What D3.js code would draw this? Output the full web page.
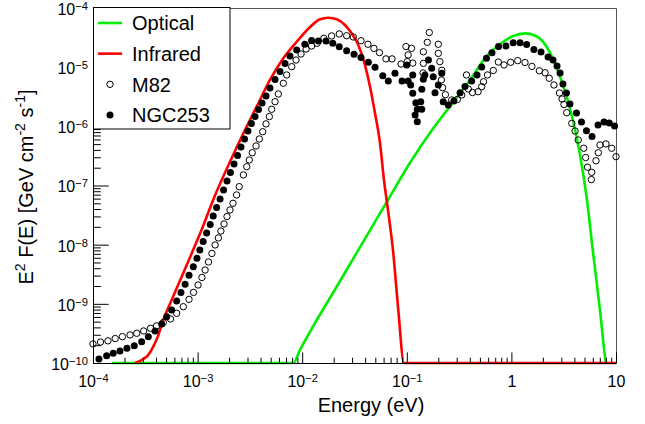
<!DOCTYPE html>
<html>
<head>
<meta charset="utf-8">
<script src="https://cdn.jsdelivr.net/npm/d3@7"></script>
<style>
body { margin: 0; background: #fff; }
svg { display: block; font-family: "Liberation Sans", Arial, Helvetica, sans-serif; }
</style>
</head>
<body>
<div id="chart"></div>
<script>
// axis ticks and legend
const xTicks = [1e-4, 1e-3, 1e-2, 1e-1, 1, 10];
const yTicks = [1e-10, 1e-9, 1e-8, 1e-7, 1e-6, 1e-5, 1e-4];
const legendLabels = ["Optical", "Infrared", "M82", "NGC253"];

// NGC253 (filled markers)
const ngcEnergy = [1.14e-4, 1.35e-4, 1.56e-4, 1.81e-4, 2.11e-4, 2.48e-4, 2.92e-4, 3.38e-4, 3.92e-4, 4.54e-4,
  5.07e-4, 5.65e-4, 6.31e-4, 6.93e-4, 7.59e-4, 8.28e-4, 9.10e-4, 9.86e-4, 1.05e-3, 1.13e-3,
  1.22e-3, 1.32e-3, 1.41e-3, 1.52e-3, 1.64e-3, 1.77e-3, 1.91e-3, 2.06e-3, 2.23e-3, 2.41e-3,
  2.60e-3, 2.81e-3, 3.03e-3, 3.27e-3, 3.54e-3, 3.82e-3, 4.13e-3, 4.51e-3, 4.92e-3, 5.50e-3,
  6.14e-3, 6.85e-3, 7.64e-3, 8.86e-3, 1.06e-2, 1.23e-2, 1.43e-2, 1.69e-2, 1.96e-2, 2.26e-2,
  2.66e-2, 3.13e-2, 3.65e-2, 4.29e-2, 4.97e-2, 5.89e-2, 6.65e-2, 7.71e-2, 9.00e-2, 1.03e-1,
  9.97e-2, 1.14e-1, 1.09e-1, 1.14e-1, 1.22e-1, 1.26e-1, 1.20e-1, 1.26e-1, 1.39e-1, 1.36e-1,
  1.39e-1, 1.44e-1, 1.49e-1, 1.61e-1, 1.73e-1, 1.79e-1, 1.86e-1, 2.00e-1, 2.16e-1, 2.23e-1,
  2.49e-1, 2.82e-1, 3.23e-1, 3.60e-1, 4.17e-1, 4.69e-1, 5.20e-1, 5.78e-1, 6.52e-1, 7.53e-1,
  8.87e-1, 1.04, 1.21, 1.40, 1.64, 1.92, 2.24, 2.50, 2.73, 2.92,
  3.11, 3.36, 3.63, 4.19, 4.68, 5.22, 5.90, 6.73, 7.68, 8.62, 9.69];
const ngcFlux = [1.17e-10, 1.33e-10, 1.46e-10, 1.60e-10, 1.77e-10, 1.96e-10, 2.29e-10, 2.79e-10, 3.48e-10, 4.57e-10,
  6.07e-10, 7.87e-10, 1.12e-9, 1.55e-9, 2.14e-9, 3.03e-9, 4.25e-9, 5.89e-9, 8.13e-9, 1.13e-8,
  1.57e-8, 2.19e-8, 3.05e-8, 4.25e-8, 5.92e-8, 8.39e-8, 1.19e-7, 1.66e-7, 2.31e-7, 3.21e-7,
  4.48e-7, 6.11e-7, 8.34e-7, 1.12e-6, 1.47e-6, 1.93e-6, 2.48e-6, 3.26e-6, 4.45e-6, 6.19e-6,
  8.45e-6, 1.15e-5, 1.55e-5, 1.95e-5, 2.44e-5, 2.82e-5, 2.77e-5, 2.77e-5, 2.53e-5, 2.22e-5,
  1.90e-5, 1.65e-5, 1.45e-5, 1.21e-5, 9.95e-6, 7.18e-6, 5.84e-6, 7.87e-6, 5.84e-6, 5.84e-6,
  1.09e-5, 7.38e-6, 5.00e-6, 3.61e-6, 2.51e-6, 1.94e-6, 1.56e-6, 1.20e-6, 1.94e-6, 2.61e-6,
  4.23e-6, 6.24e-6, 7.38e-6, 1.32e-5, 9.57e-6, 6.90e-6, 3.70e-6, 5.00e-6, 7.87e-6, 2.61e-6,
  2.30e-6, 2.68e-6, 3.70e-6, 4.71e-6, 5.84e-6, 7.38e-6, 1.01e-5, 1.41e-5, 1.76e-5, 2.23e-5,
  2.28e-5, 2.59e-5, 2.59e-5, 2.42e-5, 1.99e-5, 1.80e-5, 1.49e-5, 1.32e-5, 1.05e-5, 7.98e-6,
  5.20e-6, 3.66e-6, 2.39e-6, 1.68e-6, 1.18e-6, 8.43e-7, 6.73e-7, 1.05e-6, 1.18e-6, 1.14e-6, 1.01e-6];

// M82 (open markers)
const m82Energy = [1.00e-4, 1.18e-4, 1.39e-4, 1.63e-4, 1.91e-4, 2.26e-4, 2.62e-4, 3.05e-4, 3.55e-4, 4.05e-4,
  4.70e-4, 5.51e-4, 6.31e-4, 7.30e-4, 8.28e-4, 9.14e-4, 1.01e-3, 1.10e-3, 1.18e-3, 1.27e-3,
  1.37e-3, 1.47e-3, 1.58e-3, 1.67e-3, 1.79e-3, 1.91e-3, 2.04e-3, 2.18e-3, 2.36e-3, 2.50e-3,
  2.74e-3, 2.95e-3, 3.12e-3, 3.33e-3, 3.62e-3, 3.89e-3, 4.19e-3, 4.51e-3, 4.85e-3, 5.11e-3,
  5.50e-3, 5.91e-3, 6.60e-3, 7.11e-3, 7.94e-3, 8.73e-3, 9.75e-3, 1.09e-2, 1.23e-2, 1.39e-2,
  1.61e-2, 1.91e-2, 2.26e-2, 2.66e-2, 3.08e-2, 3.65e-2, 4.25e-2, 4.85e-2, 5.48e-2, 6.32e-2,
  7.22e-2, 8.81e-2, 9.82e-2, 1.03e-1, 1.01e-1, 1.11e-1, 1.14e-1, 1.44e-1, 1.44e-1, 1.43e-1,
  1.57e-1, 1.64e-1, 2.00e-1, 2.00e-1, 2.07e-1, 2.16e-1, 2.14e-1, 2.20e-1, 2.34e-1, 2.69e-1,
  3.04e-1, 3.35e-1, 3.72e-1, 3.87e-1, 4.25e-1, 4.80e-1, 5.20e-1, 5.41e-1, 5.91e-1, 6.71e-1,
  7.50e-1, 8.50e-1, 9.84e-1, 1.15, 1.35, 1.57, 1.85, 2.10, 2.30, 2.55,
  2.88, 3.05, 3.18, 3.38, 3.78, 4.06, 4.36, 4.92, 5.13, 5.34,
  5.86, 5.81, 6.44, 6.78, 7.03, 8.02, 9.10, 10.0];
const m82Flux = [2.10e-10, 2.26e-10, 2.37e-10, 2.59e-10, 2.79e-10, 2.98e-10, 3.18e-10, 3.48e-10, 3.86e-10, 4.23e-10,
  4.84e-10, 5.55e-10, 6.92e-10, 8.95e-10, 1.19e-9, 1.56e-9, 2.08e-9, 2.79e-9, 3.73e-9, 5.10e-9,
  7.10e-9, 9.89e-9, 1.30e-8, 1.70e-8, 2.24e-8, 2.99e-8, 3.86e-8, 5.00e-8, 6.92e-8, 9.55e-8,
  1.51e-7, 2.08e-7, 2.70e-7, 3.58e-7, 4.66e-7, 6.11e-7, 8.11e-7, 1.10e-6, 1.46e-6, 1.94e-6,
  2.61e-6, 3.52e-6, 5.34e-6, 7.38e-6, 1.02e-5, 1.32e-5, 1.67e-5, 2.03e-5, 2.28e-5, 2.53e-5,
  3.08e-5, 3.37e-5, 3.64e-5, 3.40e-5, 3.24e-5, 2.80e-5, 2.44e-5, 2.08e-5, 1.76e-5, 1.38e-5,
  1.38e-5, 1.13e-5, 2.23e-5, 1.61e-5, 1.24e-5, 2.08e-5, 1.17e-5, 1.82e-5, 1.16e-5, 7.98e-6,
  2.63e-5, 3.85e-5, 2.44e-5, 1.71e-5, 1.24e-5, 8.85e-6, 6.07e-6, 4.50e-6, 3.43e-6, 2.79e-6,
  2.84e-6, 3.39e-6, 7.38e-6, 4.28e-6, 3.73e-6, 3.85e-6, 4.68e-6, 5.68e-6, 7.38e-6, 8.79e-6,
  1.22e-5, 1.09e-5, 1.21e-5, 1.29e-5, 1.20e-5, 1.03e-5, 8.69e-6, 8.04e-6, 6.49e-6, 5.00e-6,
  3.66e-6, 2.90e-6, 2.34e-6, 1.70e-6, 1.12e-6, 8.34e-7, 5.88e-7, 4.26e-7, 2.97e-7, 2.04e-7,
  1.67e-7, 1.26e-7, 2.62e-7, 3.58e-7, 4.84e-7, 5.04e-7, 4.26e-7, 3.07e-7];

// model curves
const opticalEnergy = [1.51e-4, 8.22e-3, 9.53e-3, 2.30e-2, 6.43e-2, 1.07e-1, 1.79e-1, 2.79e-1, 4.02e-1, 5.81e-1,
  8.37e-1, 1.04, 1.35, 1.75, 2.18, 2.52, 2.92, 3.38, 3.91, 4.53, 5.25, 6.07, 7.03, 7.85, 8.02];
const opticalFlux = [1e-10, 1e-10, 1.66e-10, 2.43e-9, 5.26e-8, 2.40e-7, 9.27e-7, 2.58e-6, 6.07e-6, 1.54e-5,
  2.69e-5, 3.37e-5, 3.73e-5, 3.30e-5, 2.19e-5, 1.32e-5, 6.82e-6, 3.17e-6, 1.18e-6, 3.28e-7, 6.15e-8, 6.70e-9, 7.87e-10, 1.28e-10, 1e-10];

const infraredEnergy = [2.52e-4, 2.92e-4, 3.38e-4, 3.77e-4, 4.16e-4, 4.70e-4, 5.65e-4, 7.05e-4, 8.79e-4, 1.09e-3,
  1.45e-3, 2.04e-3, 2.74e-3, 3.67e-3, 4.92e-3, 6.60e-3, 8.86e-3, 1.19e-2, 1.48e-2, 1.78e-2,
  2.14e-2, 2.56e-2, 2.97e-2, 3.44e-2, 3.98e-2, 4.45e-2, 4.97e-2, 5.55e-2, 6.05e-2, 6.51e-2,
  7.43e-2, 8.29e-2, 9.40e-2, 10];
const infraredFlux = [1.0e-10, 1.12e-10, 1.37e-10, 1.89e-10, 2.79e-10, 5.33e-10, 1.16e-9, 2.88e-9, 7.14e-9, 1.77e-8,
  6.47e-8, 2.52e-7, 7.62e-7, 2.15e-6, 6.07e-6, 1.41e-5, 2.69e-5, 4.77e-5, 6.44e-5, 6.85e-5,
  6.44e-5, 5.16e-5, 3.73e-5, 2.37e-5, 1.09e-5, 4.68e-6, 1.66e-6, 5.16e-7, 1.24e-7, 4.69e-8,
  7.14e-9, 7.87e-10, 1.0e-10, 1.0e-10];

const margin = {top: 8, right: 29, bottom: 61, left: 93},
    width = 645 - margin.left - margin.right,
    height = 424 - margin.top - margin.bottom;

const svg = d3.select("#chart").append("svg")
    .attr("width", 645)
    .attr("height", 424);

const g = svg.append("g")
    .attr("transform", `translate(${margin.left}, ${margin.top})`);

const x = d3.scaleLog().domain([1e-4, 10]).range([0, width]);
const y = d3.scaleLog().domain([1e-10, 1e-4]).range([height, 0]);

// minor ticks: 2..9 in each decade
const minor = (ticks) => ticks.slice(0, -1).flatMap(t => d3.range(2, 10).map(m => m * t));

function expLabel(sel) {
    sel.each(function (d) {
        const t = d3.select(this).text(null);
        const e = Math.round(Math.log10(d));
        if (e === 0) { t.text("1"); return; }
        if (e === 1) { t.text("10"); return; }
        t.append("tspan").text("10");
        t.append("tspan").attr("dy", "-0.45em").attr("font-size", "0.7em").text("\u2212" + (-e));
    });
}

// frame top/right
g.append("path")
    .attr("d", `M0.5,0.5H${width + 0.5}V${height + 0.5}`)
    .attr("fill", "none").attr("stroke", "#555").attr("stroke-width", 1);

// model curves
g.append("clipPath").attr("id", "plotclip")
    .append("rect").attr("x", 0).attr("y", -2).attr("width", width + 1).attr("height", height + 4);

const line = d3.line()
    .x(d => x(d[0]))
    .y(d => y(d[1]))
    .curve(d3.curveMonotoneX);

g.append("path")
    .datum(opticalEnergy.map((e, i) => [e, opticalFlux[i]]))
    .attr("clip-path", "url(#plotclip)")
    .attr("fill", "none").attr("stroke", "#00ee00").attr("stroke-width", 2.6)
    .attr("d", line);

g.append("path")
    .datum(infraredEnergy.map((e, i) => [e, infraredFlux[i]]))
    .attr("clip-path", "url(#plotclip)")
    .attr("fill", "none").attr("stroke", "#ff0000").attr("stroke-width", 2.6)
    .attr("d", line);

// data points
g.selectAll(".m82")
    .data(m82Energy.map((e, i) => [e, m82Flux[i]]))
    .enter().append("circle")
    .attr("class", "m82")
    .attr("cx", d => x(d[0]))
    .attr("cy", d => y(d[1]))
    .attr("r", 3.2)
    .attr("fill", "none").attr("stroke", "#000").attr("stroke-width", 1);

g.selectAll(".ngc")
    .data(ngcEnergy.map((e, i) => [e, ngcFlux[i]]))
    .enter().append("circle")
    .attr("class", "ngc")
    .attr("cx", d => x(d[0]))
    .attr("cy", d => y(d[1]))
    .attr("r", 3.5)
    .attr("fill", "#000");

// axes
const xAxisG = g.append("g").attr("transform", `translate(0, ${height})`);
xAxisG.append("g")
    .call(d3.axisBottom(x).tickValues(minor(xTicks)).tickSize(-5.3).tickFormat(""))
    .call(a => a.select(".domain").remove());
xAxisG.append("g")
    .call(d3.axisBottom(x).tickValues(xTicks).tickSizeInner(-10.6).tickSizeOuter(0).tickPadding(13))
    .call(a => a.selectAll("text").attr("font-size", 16).attr("font-family", null).call(expLabel));

const yAxisG = g.append("g");
yAxisG.append("g")
    .call(d3.axisLeft(y).tickValues(minor(yTicks)).tickSize(-7.8).tickFormat(""))
    .call(a => a.select(".domain").remove());
yAxisG.append("g")
    .call(d3.axisLeft(y).tickValues(yTicks).tickSizeInner(-15.7).tickSizeOuter(0).tickPadding(5))
    .call(a => a.selectAll("text").attr("font-size", 16).attr("font-family", null)
        .attr("dy", "0.4em").call(expLabel));

svg.selectAll(".domain, .tick line").attr("stroke", "#000");

// axis titles
svg.append("text")
    .attr("x", 371).attr("y", 412)
    .attr("text-anchor", "middle").attr("font-size", 20)
    .text("Energy (eV)");

const yt = svg.append("text")
    .attr("transform", "translate(33, 187) rotate(-90)")
    .attr("text-anchor", "middle").attr("font-size", 20);
yt.append("tspan").text("E");
yt.append("tspan").attr("dy", "-0.55em").attr("font-size", "0.7em").text("2");
yt.append("tspan").attr("dy", "0.385em").text(" F(E) [GeV cm");
yt.append("tspan").attr("dy", "-0.55em").attr("font-size", "0.7em").text("-2");
yt.append("tspan").attr("dy", "0.385em").text(" s");
yt.append("tspan").attr("dy", "-0.55em").attr("font-size", "0.7em").text("-1");
yt.append("tspan").attr("dy", "0.385em").text("]");

// legend
const legend = svg.append("g");
legend.append("rect")
    .attr("x", 93.5).attr("y", 7.5).attr("width", 136.5).attr("height", 121.5)
    .attr("fill", "#fff").attr("stroke", "#000").attr("stroke-width", 1);

const legendY = d3.scalePoint().domain(legendLabels).range([23, 115]);
const entries = legend.selectAll(".entry")
    .data(legendLabels)
    .enter().append("g")
    .attr("transform", d => `translate(0, ${legendY(d)})`);

entries.filter((d, i) => i < 2).append("line")
    .attr("x1", 98).attr("x2", 122)
    .attr("stroke", (d, i) => i === 0 ? "#00ee00" : "#ff0000")
    .attr("stroke-width", 2.6);
entries.filter((d, i) => i === 2).append("circle")
    .attr("cx", 110).attr("r", 3.2)
    .attr("fill", "none").attr("stroke", "#000");
entries.filter((d, i) => i === 3).append("circle")
    .attr("cx", 110).attr("r", 3.5).attr("fill", "#000");

entries.append("text")
    .attr("x", 132).attr("dy", "0.36em")
    .attr("font-size", 20)
    .text(d => d);
</script>
</body>
</html>
